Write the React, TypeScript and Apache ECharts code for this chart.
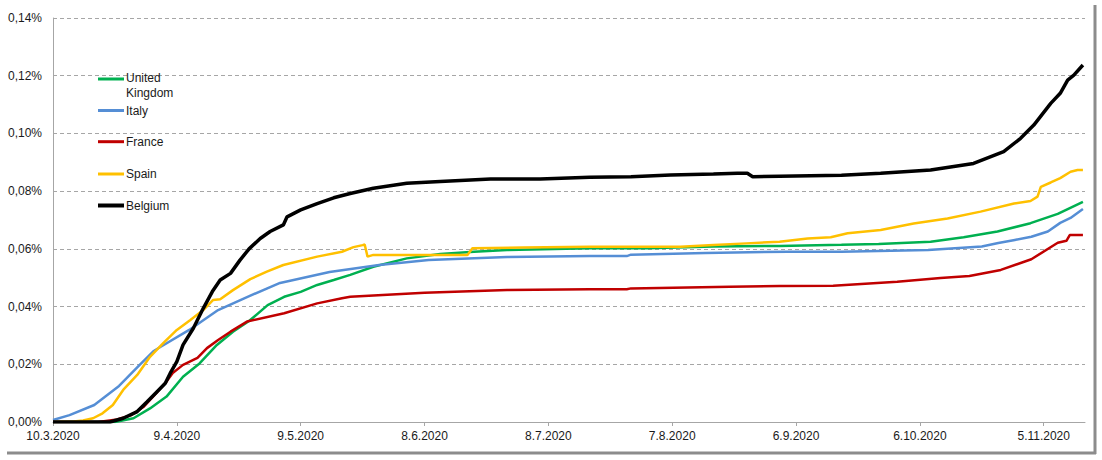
import React, { useEffect, useRef } from "react";
import * as echarts from "echarts";

// Day offsets from 10.3.2020, values in % of population
const ukDays = [0, 15, 19.5, 23.5, 27.5, 31.5, 35.5, 39.7, 43.6, 47.5, 52, 56, 60, 64, 68, 72, 77.6, 85.7, 93.8, 102, 110, 130, 144, 160, 176, 191, 200, 212.6, 220.6, 228.8, 236.8, 243.4, 249.5];
const ukValues = [0, 0, 0.0013, 0.0047, 0.0088, 0.0157, 0.0203, 0.0267, 0.0313, 0.035, 0.0405, 0.0434, 0.0451, 0.0475, 0.0492, 0.051, 0.0538, 0.0567, 0.0582, 0.059, 0.0596, 0.0602, 0.0602, 0.0608, 0.061, 0.0614, 0.0617, 0.0625, 0.064, 0.066, 0.0689, 0.0721, 0.0763];

const itDays = [0, 4, 10, 16, 21, 24.3, 26, 33, 40, 47, 55, 67, 79, 91, 110, 130, 139, 140, 158, 178, 191, 212, 225, 229, 233, 237, 241, 244, 246.5, 249.5];
const itValues = [0.0007, 0.0024, 0.0059, 0.0125, 0.0198, 0.0245, 0.026, 0.0319, 0.0388, 0.0433, 0.0482, 0.052, 0.0544, 0.0561, 0.0572, 0.0575, 0.0575, 0.058, 0.0586, 0.059, 0.059, 0.0596, 0.0608, 0.062, 0.0631, 0.0642, 0.066, 0.069, 0.0707, 0.0738];

const frDays = [0, 11, 15.5, 19, 22, 25, 27.5, 29, 31.5, 35, 37.3, 40, 43, 47, 56, 64, 70, 72, 90, 110, 130, 139, 140, 164, 176, 189, 204.5, 215, 222, 229.6, 237, 243.4, 245.5, 246.3, 249.5];
const frValues = [0, 0, 0.0009, 0.0024, 0.0053, 0.01, 0.014, 0.017, 0.0198, 0.0222, 0.0256, 0.0284, 0.0313, 0.0348, 0.0377, 0.0411, 0.0429, 0.0434, 0.0448, 0.0457, 0.046, 0.046, 0.0463, 0.0469, 0.0471, 0.0472, 0.0486, 0.0499, 0.0506, 0.0527, 0.0564, 0.0621, 0.0628, 0.0648, 0.0648];

const esDays = [0, 5, 7.3, 9.7, 12, 14.5, 17, 20.4, 23.5, 26.7, 30, 33.2, 36.4, 38.8, 40.5, 43.6, 47.8, 51.8, 55.8, 64, 70, 72.8, 75, 75.5, 76.2, 77.6, 100.4, 101.6, 114, 130, 152, 160, 168, 176, 182.8, 188.4, 192.5, 200.5, 208.5, 216.7, 224.7, 232.8, 236.8, 238.5, 239.3, 241.7, 244, 246.5, 248.2, 249.5];
const esValues = [0, 0.0002, 0.0005, 0.0013, 0.003, 0.0059, 0.0111, 0.0163, 0.0226, 0.0273, 0.0319, 0.0353, 0.0388, 0.0423, 0.0425, 0.0457, 0.0495, 0.0521, 0.0544, 0.0573, 0.059, 0.0606, 0.0613, 0.0615, 0.0573, 0.0579, 0.0579, 0.0602, 0.0605, 0.0607, 0.0607, 0.0613, 0.0619, 0.0625, 0.0636, 0.064, 0.0654, 0.0665, 0.0688, 0.0705, 0.0729, 0.0757, 0.0766, 0.0781, 0.0815, 0.083, 0.0845, 0.0867, 0.0873, 0.0873];

const beDays = [0, 13.8, 17, 20.4, 22.8, 25.2, 27.2, 28.4, 30, 31.5, 34, 36.4, 38.6, 40.5, 43, 45.3, 47.5, 50.2, 52.6, 55.8, 56.7, 60, 64, 68, 72, 77.6, 85.7, 93.8, 106, 118, 130, 140, 149.6, 160, 165.8, 168.2, 169.5, 176, 191, 200.5, 212.6, 223, 230.3, 234.4, 237.6, 241.7, 244, 245.8, 247.3, 249.5];
const beValues = [0, 0, 0.0013, 0.0036, 0.007, 0.0105, 0.0134, 0.0169, 0.0209, 0.0267, 0.0325, 0.0394, 0.0452, 0.0492, 0.0515, 0.0561, 0.06, 0.0636, 0.066, 0.0683, 0.0711, 0.0735, 0.0757, 0.0777, 0.0792, 0.081, 0.0827, 0.0833, 0.0842, 0.0842, 0.0848, 0.085, 0.0856, 0.0859, 0.0862, 0.0862, 0.085, 0.0852, 0.0855, 0.0862, 0.0873, 0.0896, 0.0937, 0.0983, 0.1029, 0.1104, 0.1139, 0.1185, 0.1202, 0.1237];

const xTickDays = [0, 30, 60, 90, 120, 150, 180, 210, 240];
const seriesNames = ["United Kingdom", "Italy", "France", "Spain", "Belgium"];
const seriesColors = ["#00B050", "#558ED5", "#C00000", "#FFC000", "#000000"];

const FONT = "Liberation Sans, Arial, sans-serif";

function dayLabel(v: number): string {
  const d = new Date(2020, 2, 10 + Math.round(v));
  return `${d.getDate()}.${d.getMonth() + 1}.${d.getFullYear()}`;
}

function pairs(days: number[], vals: number[]) {
  return days.map((d, i) => [d, vals[i]]);
}

export default function App() {
  const ref = useRef<HTMLDivElement>(null);
  useEffect(() => {
    document.body.style.margin = "0";
    if (!ref.current) return;
    const chart = echarts.init(ref.current, undefined, { renderer: "svg" });
    const datas = [
      pairs(ukDays, ukValues),
      pairs(itDays, itValues),
      pairs(frDays, frValues),
      pairs(esDays, esValues),
      pairs(beDays, beValues),
    ];
    const legendY = [79, 110.5, 141.7, 174, 205.5];
    const legendGraphics: any[] = [];
    seriesNames.forEach((name, i) => {
      legendGraphics.push({
        type: "line",
        shape: { x1: 98, y1: legendY[i], x2: 124, y2: legendY[i] },
        style: { stroke: seriesColors[i], lineWidth: i === 4 ? 4 : 3 },
        z: 10,
      });
      legendGraphics.push({
        type: "text",
        x: 126,
        y: i === 0 ? 70 : legendY[i],
        style: {
          text: i === 0 ? "United\nKingdom" : name,
          fill: "#1a1a1a",
          font: `12px ${FONT}`,
          lineHeight: 15,
          verticalAlign: i === 0 ? "top" : "middle",
          align: "left",
        },
        z: 10,
      });
    });
    chart.setOption({
      animation: false,
      backgroundColor: "#ffffff",
      grid: { left: 53, right: 17, top: 18, bottom: 38, containLabel: false },
      xAxis: {
        type: "value",
        min: 0,
        max: 250,
        interval: 30,
        axisLine: { show: true, lineStyle: { color: "#a6a6a6", width: 1 } },
        axisTick: { show: true, length: 4, inside: false, lineStyle: { color: "#a6a6a6" }, customValues: xTickDays },
        axisLabel: {
          customValues: xTickDays,
          formatter: (v: number) => dayLabel(v),
          color: "#1a1a1a",
          fontFamily: FONT,
          fontSize: 12,
          margin: 8,
        },
        splitLine: { show: false },
      },
      yAxis: {
        type: "value",
        min: 0,
        max: 0.14,
        interval: 0.02,
        axisLine: { show: true, lineStyle: { color: "#a6a6a6", width: 1 } },
        axisTick: { show: false },
        axisLabel: {
          formatter: (v: number) => v.toFixed(2).replace(".", ",") + "%",
          color: "#1a1a1a",
          fontFamily: FONT,
          fontSize: 12,
          margin: 11,
        },
        splitLine: { show: true, lineStyle: { color: "#a6a6a6", type: [4, 3], width: 1 } },
      },
      series: seriesNames.map((name, i) => ({
        name,
        type: "line",
        data: datas[i],
        showSymbol: false,
        symbol: "none",
        smooth: false,
        lineStyle: { color: seriesColors[i], width: i === 4 ? 3.5 : 2.5 },
        itemStyle: { color: seriesColors[i] },
        z: 2 + i,
      })),
      graphic: [
        ...legendGraphics,
        {
          type: "line",
          shape: { x1: 7, y1: 453, x2: 1096, y2: 453 },
          style: { stroke: "#8c8c8c", lineWidth: 3 },
        },
        {
          type: "line",
          shape: { x1: 1095, y1: 5, x2: 1095, y2: 454 },
          style: { stroke: "#8c8c8c", lineWidth: 3 },
        },
      ],
    });
    return () => chart.dispose();
  }, []);
  return <div ref={ref} style={{ width: 1102, height: 460 }} />;
}
